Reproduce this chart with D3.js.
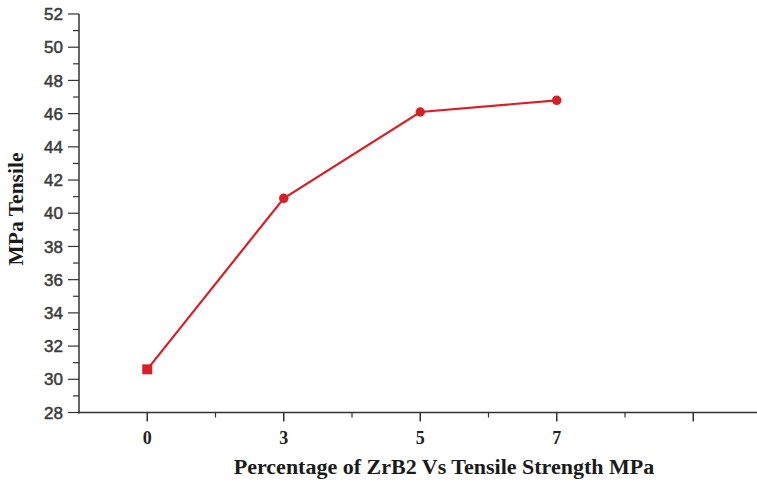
<!DOCTYPE html>
<html><head><meta charset="utf-8">
<script src="https://cdn.jsdelivr.net/npm/d3@7"></script>
<style>body{margin:0;background:#fff}svg{display:block}</style>
</head><body>
<svg id="c" width="757" height="482"></svg>
<script>
const categories = ["0", "3", "5", "7"];
const tensile = [30.6, 40.9, 46.1, 46.8];
const yTicks = [28, 30, 32, 34, 36, 38, 40, 42, 44, 46, 48, 50, 52];
const xTitle = "Percentage of ZrB2 Vs Tensile Strength MPa";
const yTitle = "MPa Tensile";

const svg = d3.select("#c");
const red = "#d62027";
const x = d3.scaleLinear().domain([-0.5, 4.5]).range([79, 761.5]);
const y = d3.scaleLinear().domain([28, 52]).range([412.5, 14]);

// Y axis
const yAxis = svg.append("g").attr("transform", "translate(79,0)");
yAxis.append("line").attr("x1", 0).attr("x2", 0).attr("y1", y(52)).attr("y2", y(28) + 1)
  .attr("stroke", "#333").attr("stroke-width", 1.5);
const minorY = d3.range(29, 52, 2);
yAxis.selectAll(".mn").data(minorY).join("line")
  .attr("x1", -6).attr("x2", 0).attr("y1", d => y(d)).attr("y2", d => y(d))
  .attr("stroke", "#333").attr("stroke-width", 1.2);
yAxis.selectAll(".mj").data(yTicks).join("line")
  .attr("x1", -11).attr("x2", 0).attr("y1", d => y(d)).attr("y2", d => y(d))
  .attr("stroke", "#333").attr("stroke-width", 1.2);
yAxis.selectAll("text").data(yTicks).join("text")
  .attr("x", -16).attr("y", d => y(d)).attr("dy", "0.36em")
  .attr("text-anchor", "end").attr("font-family", "Liberation Sans, Arial, sans-serif")
  .attr("font-size", 17).attr("fill", "#3a3a3a").attr("stroke", "#3a3a3a").attr("stroke-width", 0.5)
  .text(d => d);

// X axis
const xAxis = svg.append("g").attr("transform", `translate(0,${y(28)})`);
xAxis.append("line").attr("x1", 78).attr("x2", 757).attr("y1", 0).attr("y2", 0)
  .attr("stroke", "#333").attr("stroke-width", 1.5);
const majorX = [0, 1, 2, 3, 4];
const minorX = [0.5, 1.5, 2.5, 3.5, 4.5];
xAxis.selectAll(".mj").data(majorX).join("line")
  .attr("x1", d => x(d)).attr("x2", d => x(d)).attr("y1", 0).attr("y2", 9)
  .attr("stroke", "#333").attr("stroke-width", 1.5);
xAxis.selectAll(".mn").data(minorX).join("line")
  .attr("x1", d => x(d)).attr("x2", d => x(d)).attr("y1", 0).attr("y2", 5)
  .attr("stroke", "#333").attr("stroke-width", 1.2);
xAxis.selectAll("text").data(categories).join("text")
  .attr("x", (d, i) => x(i)).attr("y", 31).attr("text-anchor", "middle")
  .attr("font-family", "Liberation Serif, Times New Roman, serif").attr("font-weight", "bold")
  .attr("font-size", 18).attr("fill", "#222").text(d => d);

// Titles
svg.append("text").attr("x", 444).attr("y", 474).attr("text-anchor", "middle")
  .attr("font-family", "Liberation Serif, Times New Roman, serif").attr("font-weight", "bold")
  .attr("font-size", 22).attr("fill", "#1a1a1a").text(xTitle);
svg.append("text").attr("transform", "translate(23,209) rotate(-90)").attr("text-anchor", "middle")
  .attr("font-family", "Liberation Serif, Times New Roman, serif").attr("font-weight", "bold")
  .attr("font-size", 21.5).attr("fill", "#1a1a1a").text(yTitle);

// Line
const line = d3.line().x((d, i) => x(i)).y(d => y(d));
svg.append("path").datum(tensile).attr("d", line).attr("fill", "none")
  .attr("stroke", red).attr("stroke-width", 2.2);

// Markers: first square, others circles
svg.selectAll(".pt").data(tensile).join(enter => enter.append("path"))
  .attr("transform", (d, i) => `translate(${x(i)},${y(d)})`)
  .attr("d", (d, i) => i === 0 ? d3.symbol(d3.symbolSquare, 100)() : d3.symbol(d3.symbolCircle, 70)())
  .attr("fill", red);
</script>
</body></html>
